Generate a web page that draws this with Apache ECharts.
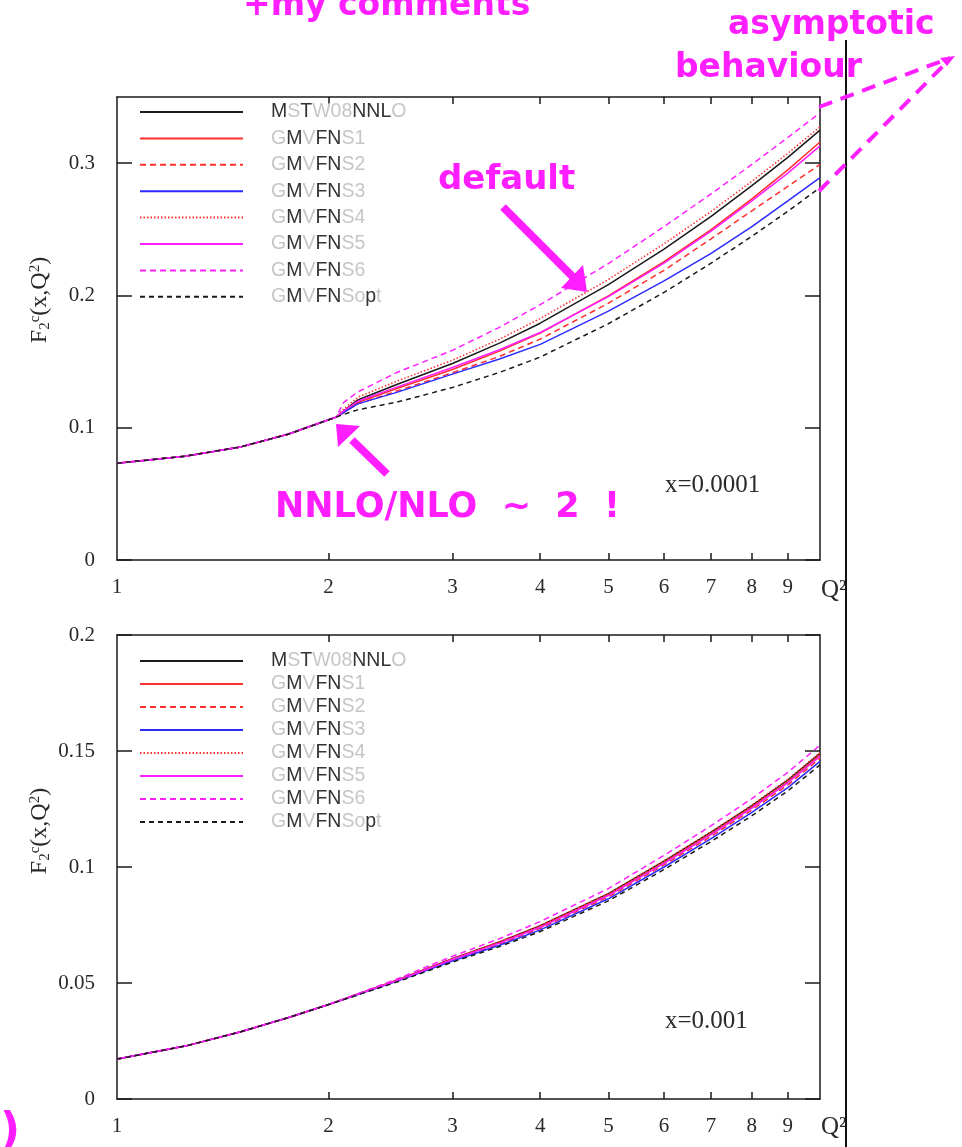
<!DOCTYPE html>
<html><head><meta charset="utf-8">
<script src="https://cdn.jsdelivr.net/npm/echarts@6/dist/echarts.min.js"></script>
<style>html,body{margin:0;padding:0;background:#fff}#c{width:962px;height:1147px}</style>
</head><body><div id="c"></div>
<script>
// ---------------- data ----------------
const seriesNames = ['MSTW08NNLO','GMVFNS1','GMVFNS2','GMVFNS3','GMVFNS4','GMVFNS5','GMVFNS6','GMVFNSopt'];
const xTickLabels = [1,2,3,4,5,6,7,8,9];
const xTicks = [2,3,4,5,6,7,8,9];
const yTicksTop = [0,0.1,0.2,0.3];
const yTicksBot = [0,0.05,0.1,0.15,0.2];

// x = 0.0001 panel
const q2Top = [1,1.25,1.5,1.75,2,2.05,2.1,2.2,2.5,3,3.5,4,5,6,7,8,9,10];
const mstwTop = [0.0732,0.0785,0.0855,0.0950,0.1060,0.1080,0.1125,0.121,0.1327,0.1485,0.1639,0.179,0.2081,0.235,0.2598,0.283,0.3044,0.325];
const s1Top   = [0.0732,0.0785,0.0855,0.0950,0.1060,0.1080,0.1115,0.119,0.1297,0.144,0.1579,0.1715,0.1996,0.2255,0.2498,0.273,0.2949,0.316];
const s2Top   = [0.0732,0.0785,0.0855,0.0950,0.1060,0.1080,0.1115,0.118,0.1277,0.1415,0.1539,0.167,0.1941,0.219,0.2428,0.264,0.2824,0.299];
const s3Top   = [0.0732,0.0785,0.0855,0.0950,0.1060,0.1080,0.1115,0.118,0.1267,0.1405,0.1519,0.163,0.1881,0.211,0.2318,0.252,0.2714,0.289];
const s4Top   = [0.0732,0.0785,0.0855,0.0950,0.1060,0.1080,0.114,0.123,0.1352,0.151,0.1669,0.1825,0.2121,0.239,0.2635,0.2863,0.3074,0.3275];
const s5Top   = [0.0732,0.0785,0.0855,0.0950,0.1060,0.1080,0.1125,0.120,0.1307,0.1455,0.1589,0.172,0.1991,0.2245,0.2486,0.2715,0.2924,0.313];
const s6Top   = [0.0732,0.0785,0.0855,0.0950,0.1060,0.1080,0.119,0.127,0.1417,0.1585,0.1759,0.193,0.2241,0.252,0.2768,0.299,0.3194,0.338];
const soptTop = [0.0732,0.0785,0.0855,0.0950,0.1060,0.1080,0.110,0.1135,0.1193,0.1304,0.1418,0.1534,0.1786,0.2023,0.2244,0.2447,0.2636,0.2815];

// x = 0.001 panel
const q2Bot = [1,1.25,1.5,1.75,2,2.5,3,3.5,4,5,6,7,8,9,10];
const mstwBot = [0.0172,0.0228,0.0290,0.0350,0.0407,0.0512,0.0605,0.0677,0.0747,0.0885,0.1025,0.1150,0.1265,0.1375,0.1490];
const s1Bot   = [0.0172,0.0228,0.0290,0.0350,0.0407,0.0511,0.0603,0.0674,0.0743,0.0880,0.1019,0.1144,0.1258,0.1367,0.1482];
const s2Bot   = [0.0172,0.0228,0.0290,0.0350,0.0407,0.0509,0.0598,0.0668,0.0736,0.0871,0.1009,0.1132,0.1246,0.1354,0.1468];
const s3Bot   = [0.0172,0.0228,0.0290,0.0350,0.0407,0.0507,0.0595,0.0663,0.0729,0.0863,0.1000,0.1122,0.1235,0.1342,0.1455];
const s4Bot   = [0.0172,0.0228,0.0290,0.0350,0.0407,0.0512,0.0606,0.0678,0.0748,0.0886,0.1027,0.1152,0.1267,0.1378,0.1493];
const s5Bot   = [0.0172,0.0228,0.0290,0.0350,0.0407,0.0510,0.0601,0.0672,0.0740,0.0877,0.1016,0.1140,0.1254,0.1363,0.1477];
const s6Bot   = [0.0172,0.0228,0.0290,0.0350,0.0407,0.0517,0.0615,0.0691,0.0765,0.0907,0.1050,0.1178,0.1295,0.1408,0.1525];
const soptBot = [0.0172,0.0228,0.0290,0.0350,0.0407,0.0504,0.0590,0.0657,0.0722,0.0854,0.0989,0.1110,0.1221,0.1328,0.1440];

const topSets = [mstwTop,s1Top,s2Top,s3Top,s4Top,s5Top,s6Top,soptTop];
const botSets = [mstwBot,s1Bot,s2Bot,s3Bot,s4Bot,s5Bot,s6Bot,soptBot];

// ---------------- styles ----------------
const RED='#ff2e2e', BLUE='#2b2bff', MAG='#ff1eff', BLK='#1a1a1a';
const styles = [
  {color:BLK, type:'solid'},
  {color:RED, type:'solid'},
  {color:RED, type:[6,4]},
  {color:BLUE, type:'solid'},
  {color:RED, type:[1.5,2]},
  {color:MAG, type:'solid'},
  {color:MAG, type:[6,4]},
  {color:BLK, type:[5,4]}
];
const legendRich = {
  'MSTW08NNLO':'{k|M}{g|S}{k|T}{g|W08}{k|NNL}{g|O}',
  'GMVFNS1':'{g|G}{k|M}{g|V}{k|FN}{g|S1}',
  'GMVFNS2':'{g|G}{k|M}{g|V}{k|FN}{g|S2}',
  'GMVFNS3':'{g|G}{k|M}{g|V}{k|FN}{g|S3}',
  'GMVFNS4':'{g|G}{k|M}{g|V}{k|FN}{g|S4}',
  'GMVFNS5':'{g|G}{k|M}{g|V}{k|FN}{g|S5}',
  'GMVFNS6':'{g|G}{k|M}{g|V}{k|FN}{g|S6}',
  'GMVFNSopt':'{g|G}{k|M}{g|V}{k|FN}{g|So}{k|p}{g|t}'
};

const SERIF='Liberation Serif, Times New Roman, serif';
const SANS='Liberation Sans, Arial, sans-serif';
const ANN='DejaVu Sans, sans-serif';
const axisCol='#1a1a1a';

function xAx(grid, pos){
  return {gridIndex:grid, type:'log', logBase:10, min:1, max:10, position:pos,
    axisLine:{show:true, onZero:false, lineStyle:{color:axisCol, width:1.5}},
    axisTick:{show:true, inside:true, length:7, customValues:xTicks, lineStyle:{color:axisCol, width:1.5}},
    axisLabel:{show:pos==='bottom', customValues:xTickLabels, fontFamily:SERIF, fontSize:21, color:'#2a2a2a', margin:17},
    splitLine:{show:false}, minorTick:{show:false}, minorSplitLine:{show:false}};
}
function yAx(grid, pos, max, ticks){
  return {gridIndex:grid, type:'value', min:0, max:max, position:pos,
    axisLine:{show:true, onZero:false, lineStyle:{color:axisCol, width:1.5}},
    axisTick:{show:true, inside:true, length:15, customValues:ticks, lineStyle:{color:axisCol, width:1.5}},
    axisLabel:{show:pos==='left', customValues:ticks, fontFamily:SERIF, fontSize:21, color:'#2a2a2a', margin:22,
      formatter:v=>String(v)},
    splitLine:{show:false}};
}

const series = [];
seriesNames.forEach((n,i)=>{
  series.push({name:n, type:'line', xAxisIndex:0, yAxisIndex:0, showSymbol:false, symbol:'none',
    smooth:false, data:q2Top.map((q,j)=>[q, topSets[i][j]]),
    lineStyle:{color:styles[i].color, type:styles[i].type, width:1.5}, itemStyle:{color:styles[i].color}, z:2});
  series.push({name:n, type:'line', xAxisIndex:2, yAxisIndex:2, showSymbol:false, symbol:'none',
    smooth:false, data:q2Bot.map((q,j)=>[q, botSets[i][j]]),
    lineStyle:{color:styles[i].color, type:styles[i].type, width:1.5}, itemStyle:{color:styles[i].color}, z:2});
});

function legendCfg(top, gap){
  return {data:seriesNames, orient:'vertical', left:139, top:top, padding:0,
    itemWidth:103, itemHeight:14, itemGap:gap, selectedMode:false,
    itemStyle:{opacity:0},
    formatter:n=>legendRich[n],
    textStyle:{fontFamily:SANS, fontSize:19.5, lineHeight:20, padding:[0,0,0,23],
      rich:{k:{color:'#333', fontFamily:SANS, fontSize:19.5}, g:{color:'#c6c6c6', fontFamily:SANS, fontSize:19.5}}}};
}

const magText = (txt, x, y, size) => ({type:'text', x:x, y:y, z:50,
  style:{text:txt, fill:MAG, font:'bold '+size+'px '+ANN, align:'left', verticalAlign:'middle'}});

const option = {
  animation:false,
  backgroundColor:'#fff',
  grid:[
    {left:117, top:97, width:703, height:463},
    {left:117, top:635, width:703, height:464}
  ],
  xAxis:[xAx(0,'bottom'), xAx(0,'top'), xAx(1,'bottom'), xAx(1,'top')],
  yAxis:[yAx(0,'left',0.35,yTicksTop), yAx(0,'right',0.35,yTicksTop), yAx(1,'left',0.2,yTicksBot), yAx(1,'right',0.2,yTicksBot)],
  legend:[legendCfg(102,6.4), legendCfg(651,3)],
  series:series,
  graphic:[
    // panel labels
    {type:'text', x:665, y:485, style:{text:'x=0.0001', fill:'#2a2a2a', font:'25px '+SERIF, verticalAlign:'middle'}},
    {type:'text', x:665, y:1021, style:{text:'x=0.001', fill:'#2a2a2a', font:'25px '+SERIF, verticalAlign:'middle'}},
    // Q^2 axis names
    {type:'text', x:821, y:590, style:{text:'Q²', fill:'#2a2a2a', font:'25px '+SERIF, verticalAlign:'middle'}},
    {type:'text', x:821, y:1127, style:{text:'Q²', fill:'#2a2a2a', font:'25px '+SERIF, verticalAlign:'middle'}},
    // y-axis titles
    {type:'text', x:40, y:300, rotation:Math.PI/2,
      style:{text:'{n|F}{s|2}{p|c}{n|(x,Q}{p|2}{n|)}', align:'center', verticalAlign:'middle',
        rich:{n:{font:'24px '+SERIF, fill:'#2a2a2a'}, s:{font:'15px '+SERIF, fill:'#2a2a2a', padding:[10,0,0,0]}, p:{font:'15px '+SERIF, fill:'#2a2a2a', padding:[0,0,10,0]}}}},
    {type:'text', x:40, y:831, rotation:Math.PI/2,
      style:{text:'{n|F}{s|2}{p|c}{n|(x,Q}{p|2}{n|)}', align:'center', verticalAlign:'middle',
        rich:{n:{font:'24px '+SERIF, fill:'#2a2a2a'}, s:{font:'15px '+SERIF, fill:'#2a2a2a', padding:[10,0,0,0]}, p:{font:'15px '+SERIF, fill:'#2a2a2a', padding:[0,0,10,0]}}}},
    // right vertical rule
    {type:'line', shape:{x1:846, y1:40, x2:846, y2:1147}, style:{stroke:'#111', lineWidth:2}, z:40},
    // magenta comments
    magText('+my comments', 243, 6, 33),
    magText('asymptotic', 728, 25, 33),
    magText('behaviour', 675, 68, 33),
    magText('default', 438, 180, 34),
    magText('NNLO/NLO  ~  2  !', 275, 508, 35),
    magText(')', 0, 1133, 44),
    // default arrow
    {type:'line', shape:{x1:503, y1:207, x2:574, y2:278}, style:{stroke:MAG, lineWidth:8}, z:50},
    {type:'polygon', shape:{points:[[587,292],[561,288],[583,265]]}, style:{fill:MAG}, z:50},
    // NNLO arrow
    {type:'line', shape:{x1:387, y1:474, x2:352, y2:440}, style:{stroke:MAG, lineWidth:8}, z:50},
    {type:'polygon', shape:{points:[[336,424],[338,447],[360,426]]}, style:{fill:MAG}, z:50},
    // asymptotic dashed pointers
    {type:'line', shape:{x1:819, y1:107, x2:950, y2:58}, style:{stroke:MAG, lineWidth:4, lineDash:[14,9]}, z:50},
    {type:'line', shape:{x1:819, y1:191, x2:947, y2:62}, style:{stroke:MAG, lineWidth:4, lineDash:[14,9]}, z:50},
    {type:'polygon', shape:{points:[[955,56],[940,58],[947,66]]}, style:{fill:MAG}, z:50}
  ]
};
const chart = echarts.init(document.getElementById('c'), null, {renderer:'canvas'});
chart.setOption(option);
</script>
</body></html>
